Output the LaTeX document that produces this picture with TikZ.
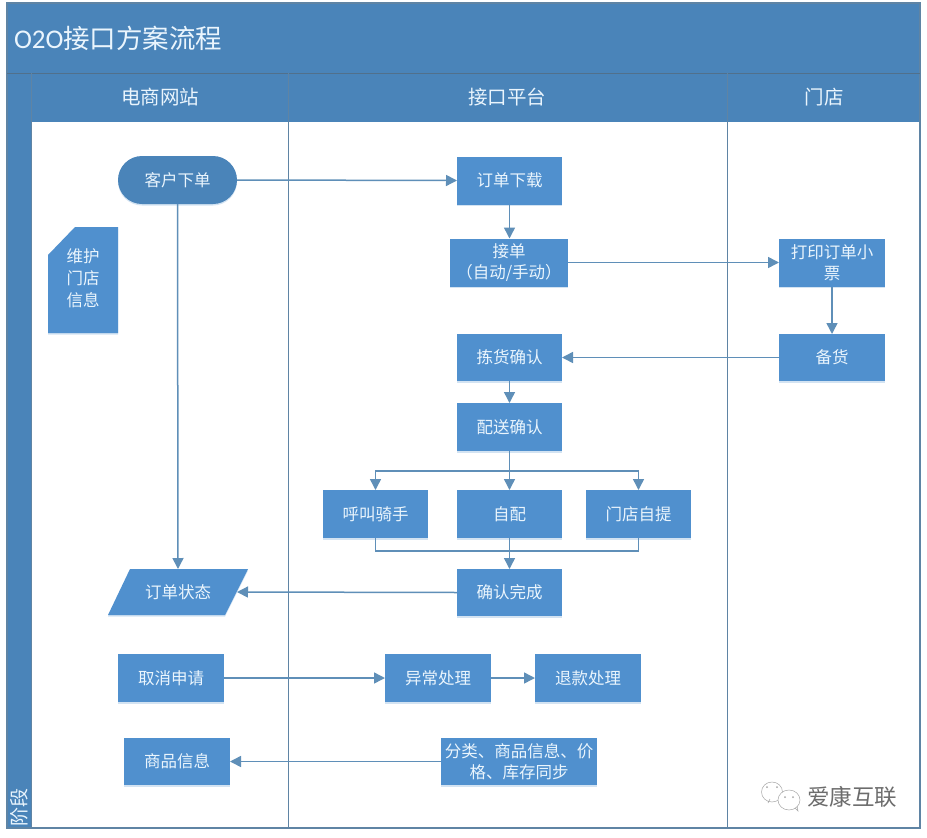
\documentclass[tikz,border=0pt]{standalone}
\usepackage{fontspec}
\setmainfont{Noto Sans CJK SC}
\newfontfamily\latinfont{Carlito}
\usepackage{xcolor}
\usepackage{tikz}
\usetikzlibrary{arrows.meta,shapes.misc,shadows}
\definecolor{laneBlue}{HTML}{4A84B9}
\definecolor{boxBlue}{HTML}{5090CE}
\definecolor{lineBlue}{HTML}{5F8FB8}
\definecolor{frameBlue}{HTML}{5F84A4}
\definecolor{labelWhite}{HTML}{EAF5FD}
\tikzset{
  boxshade/.style={drop shadow={shadow xshift=0pt,shadow yshift=-1.5pt,fill=boxBlue!55,opacity=.45}},
  flowbox/.style={fill=boxBlue,boxshade,text=labelWhite,align=center,
    minimum width=105pt,minimum height=48pt,font=\fontsize{16.5}{21}\selectfont},
  lanehead/.style={text=labelWhite,font=\fontsize{19.5}{24}\selectfont},
  flowline/.style={draw=lineBlue,line width=1.5pt,-{Triangle[length=11pt,width=11pt]}},
  plainline/.style={draw=lineBlue,line width=1.5pt},
}
\begin{document}
\begin{tikzpicture}[x=1pt,y=-1pt,outer sep=0pt,inner sep=0pt]
\useasboundingbox (0,0) rectangle (927,838);
% frame and lanes
\fill[white] (0,0) rectangle (927,838);
\fill[laneBlue] (7,3) rectangle (920,122);
\fill[laneBlue] (7,73) rectangle (31,828);
\draw[frameBlue,line width=1.5pt] (7,3) rectangle (920,828);
\draw[frameBlue!85!black,line width=1pt] (7,73) -- (920,73);
\draw[frameBlue,line width=1pt] (31,73) -- (31,828);
\draw[frameBlue,line width=1pt] (288,73) -- (288,828);
\draw[frameBlue,line width=1pt] (727,73) -- (727,828);
\node[anchor=west,text=labelWhite,font=\fontsize{26.5}{30}\selectfont] (title) at (14,38) {{\latinfont\fontsize{27}{30}\selectfont O2O}接口方案流程};
\node[lanehead] (shop) at (160,97) {电商网站};
\node[lanehead] (platform) at (507,97) {接口平台};
\node[lanehead] (store) at (824,97) {门店};
\node[rotate=90,anchor=west,text=labelWhite,font=\fontsize{19}{22}\selectfont] (stage) at (19,826) {阶段};

% boxes
\node[
fill=laneBlue,
boxshade,
rounded rectangle,
text=labelWhite,
minimum width=119pt,
minimum height=48pt,
font=\fontsize{16.5}{21}\selectfont,
] (order) at (177.5,180) {客户下单};
\fill[boxBlue,boxshade] (75,227) -- (118,227) -- (118,333) -- (48,333) -- (48,255) -- cycle;
\node[text=labelWhite,align=center,font=\fontsize{16.5}{22}\selectfont] (maintain) at (83,278) {维护\\门店\\信息};
\fill[boxBlue,boxshade] (130,569) -- (248,569) -- (225,615) -- (108,615) -- cycle;
\node[text=labelWhite,minimum width=118pt,minimum height=46pt,font=\fontsize{16.5}{21}\selectfont] (status) at (178,592) {订单状态};
\node[flowbox] (download) at (509.5,180.5) {订单下载};
\node[flowbox,minimum width=118pt] (accept) at (509,262.5) {接单\\（自动/手动）};
\node[flowbox,minimum width=106pt] (ticket) at (832,262.5) {打印订单小\\票};
\node[flowbox,minimum height=47pt] (pick) at (509.5,357.5) {拣货确认};
\node[flowbox,minimum width=106pt,minimum height=47pt] (stock) at (832,357.5) {备货};
\node[flowbox] (deliver) at (509.5,427) {配送确认};
\node[flowbox] (rider) at (375.5,514) {呼叫骑手};
\node[flowbox] (self) at (509.5,514) {自配};
\node[flowbox] (pickup) at (638.5,514) {门店自提};
\node[flowbox,minimum height=47pt] (done) at (509.5,592.5) {确认完成};
\node[flowbox,minimum width=106pt] (cancel) at (171,678) {取消申请};
\node[flowbox,minimum width=106pt] (abnormal) at (438,678) {异常处理};
\node[flowbox,minimum width=106pt] (refund) at (588,678) {退款处理};
\node[flowbox,minimum width=106pt,minimum height=47pt] (goods) at (177,761.5) {商品信息};
\node[flowbox,minimum width=156pt,minimum height=47pt] (sync) at (519,761.5) {分类、商品信息、价\\格、库存同步};

% connectors
\draw[flowline] (order.east) -- (download.west);
\draw[flowline] (order.south) -- (status.north);
\draw[flowline] (download.south) -- (download.south |- accept.north);
\draw[flowline] (accept.east) -- (ticket.west);
\draw[flowline] (ticket.south) -- (stock.north);
\draw[flowline] (stock.west) -- (pick.east);
\draw[flowline] (pick.south) -- (deliver.north);
\draw[flowline] (deliver.south) -- (self.north);
\coordinate (splitleft) at (rider.north |- 0,471);
\coordinate (splitright) at (pickup.north |- 0,471);
\draw[flowline] (deliver.south |- 0,471) -- (splitleft) -- (rider.north);
\draw[flowline] (deliver.south |- 0,471) -- (splitright) -- (pickup.north);
\coordinate (joinleft) at (rider.south |- 0,551);
\coordinate (joinright) at (pickup.south |- 0,551);
\draw[plainline] (rider.south) -- (joinleft) -- (joinright) -- (pickup.south);
\draw[flowline] (self.south) -- (done.north);
\draw[flowline] (done.west) -- (status.east);
\draw[flowline] (cancel.east) -- (abnormal.west);
\draw[flowline] (abnormal.east) -- (refund.west);
\draw[flowline] (sync.west) -- (goods.east);

% watermark
\draw[gray!70,line width=.5pt,fill=white] (768,803) -- (770,799) (772,792) circle[x radius=10.5pt,y radius=10pt];
\draw[gray!70,line width=.5pt,fill=white] (789,800) circle[x radius=11pt,y radius=10pt];
\draw[gray!70,line width=.5pt] (795,808) -- (798,811) -- (797,806);
\foreach \dotx/\doty in {767/787,777/787,785/797,793/797}
  \fill[gray!70] (\dotx,\doty) circle[radius=1pt];
\node[text=gray!85!black,font=\fontsize{22.5}{26}\selectfont] (mark) at (852,797) {爱康互联};
\end{tikzpicture}
\end{document}
